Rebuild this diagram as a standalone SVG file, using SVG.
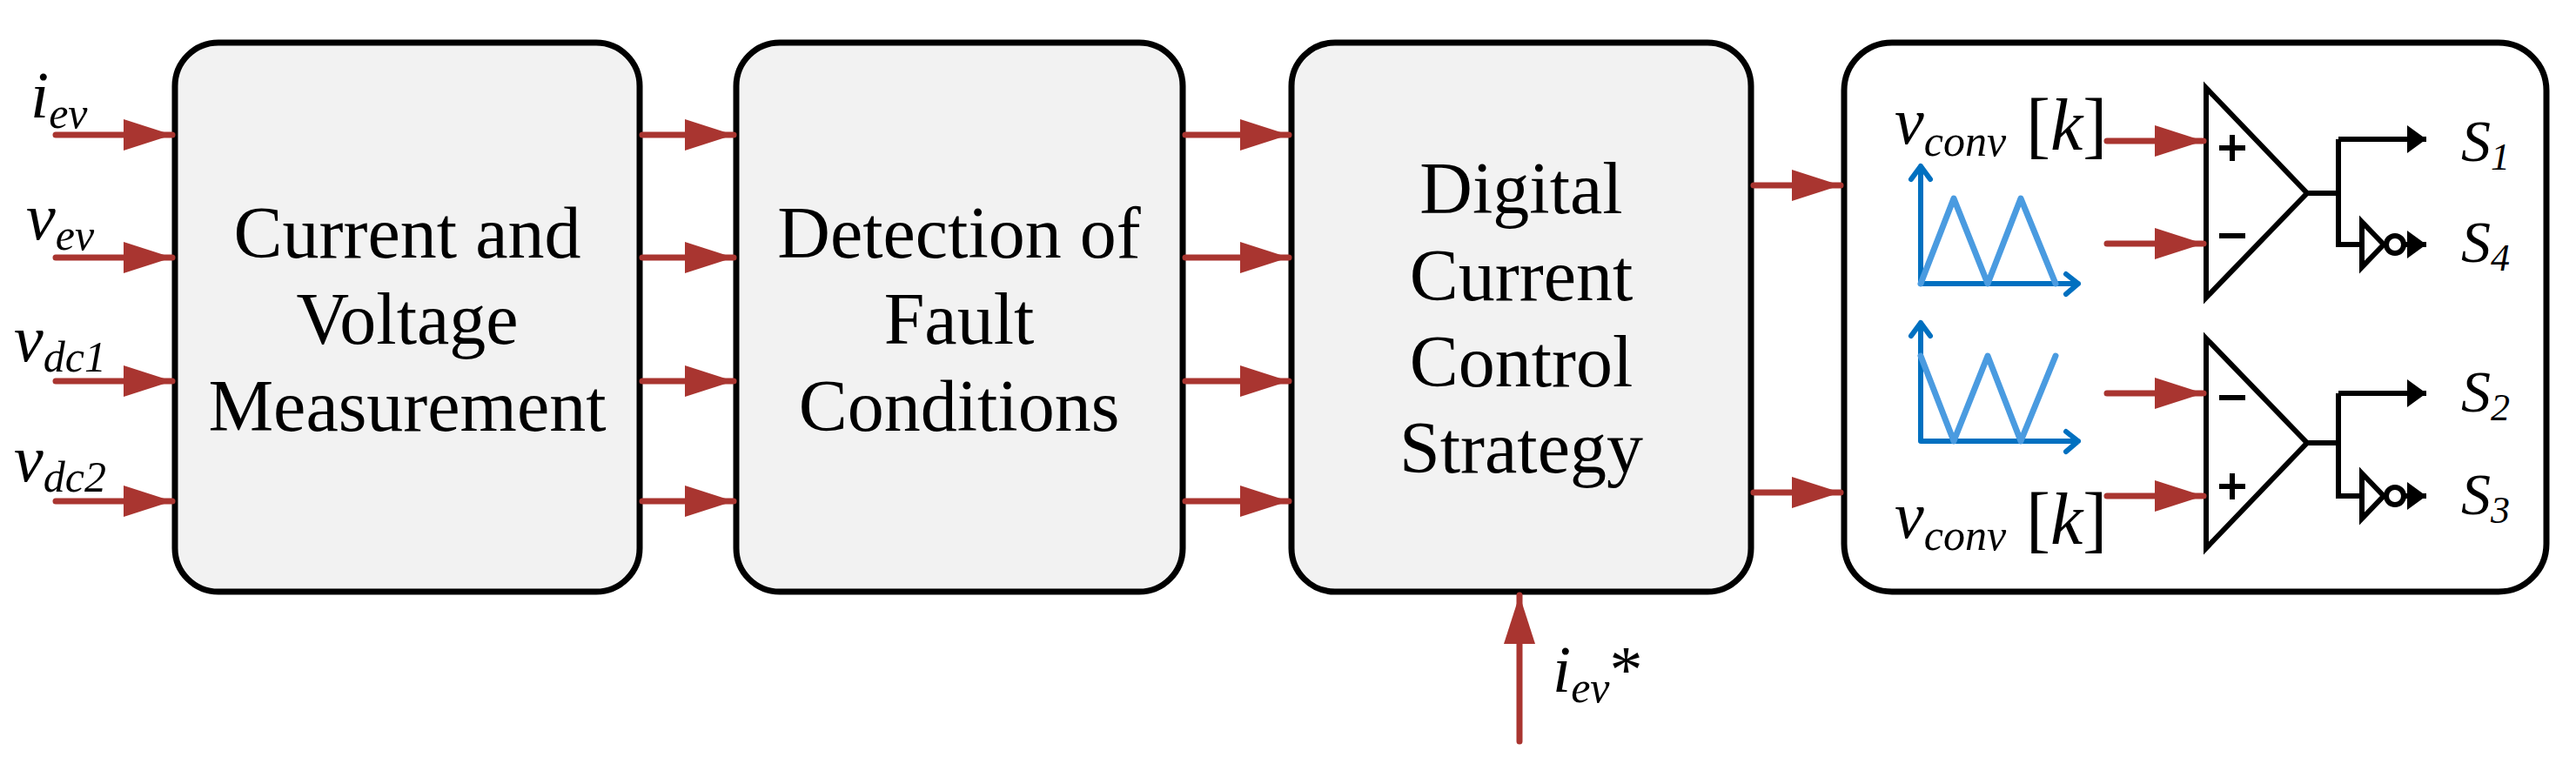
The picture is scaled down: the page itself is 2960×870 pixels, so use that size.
<svg xmlns="http://www.w3.org/2000/svg" width="2960" height="870" viewBox="0 0 2960 870">
<defs>
<marker id="ar" markerUnits="userSpaceOnUse" markerWidth="60" markerHeight="40" refX="56" refY="18" orient="auto"><path d="M0,0 L56,18 L0,36 Z" fill="#A93530"/></marker>
<marker id="ab" markerUnits="userSpaceOnUse" markerWidth="40" markerHeight="40" refX="22" refY="16" orient="auto"><path d="M0,0 L22,16 L0,32 Z" fill="#000"/></marker>
</defs>
<style>
.box{fill:#F2F2F2;stroke:#000;stroke-width:7}
.t{font-family:'Liberation Serif','Times New Roman','DejaVu Serif',serif;font-size:84px;text-anchor:middle;fill:#000}
.m{font-family:'Liberation Serif','Times New Roman','DejaVu Serif',serif;font-style:italic;fill:#000}
.n{font-style:normal}
.r{stroke:#A93530;stroke-width:7;stroke-linecap:round;fill:none;marker-end:url(#ar)}
.k{stroke:#000;stroke-width:6;fill:none}
.ax{stroke:#0070C0;stroke-width:6;fill:none;stroke-linecap:round;stroke-linejoin:round}
.wv{stroke:#4A9BE0;stroke-width:7;fill:none;stroke-linecap:round;stroke-linejoin:round}
</style>
<g id="box1"><rect class="box" x="201" y="49" width="534" height="631" rx="50"/>
<text class="t" x="468" y="296">Current and</text><text class="t" x="468" y="395">Voltage</text><text class="t" x="468" y="495">Measurement</text></g>
<g id="box2"><rect class="box" x="846" y="49" width="513" height="631" rx="50"/>
<text class="t" x="1102" y="296">Detection of</text><text class="t" x="1102" y="395">Fault</text><text class="t" x="1102" y="495">Conditions</text></g>
<g id="box3"><rect class="box" x="1484" y="49" width="528" height="631" rx="50"/>
<text class="t" x="1748" y="245">Digital</text><text class="t" x="1748" y="345">Current</text><text class="t" x="1748" y="444">Control</text><text class="t" x="1748" y="543">Strategy</text></g>
<g id="box4"><rect x="2119" y="49" width="807" height="631" rx="55" fill="#fff" stroke="#000" stroke-width="7"/>
<text class="m" x="2177" y="165" font-size="76">v<tspan font-size="50" dy="14">conv</tspan></text>
<text class="m n" x="2328" y="172" font-size="84">[<tspan font-style="italic">k</tspan>]</text>
<text class="m" x="2177" y="618" font-size="76">v<tspan font-size="50" dy="14">conv</tspan></text>
<text class="m n" x="2328" y="625" font-size="84">[<tspan font-style="italic">k</tspan>]</text>
<path class="ax" d="M2207,191 V326 H2388 M2196,206 L2207,191 L2218,206 M2374,315 L2388,326 L2374,338"/>
<path class="wv" d="M2207,326 L2245,228 L2284,326 L2322,228 L2362,326"/>
<path class="ax" d="M2207,371 V507 H2388 M2196,386 L2207,371 L2218,386 M2374,496 L2388,507 L2374,519"/>
<path class="wv" d="M2207,409 L2245,507 L2284,409 L2322,507 L2362,409"/>
<path class="k" d="M2535,101 L2651,222 L2535,342 Z"/>
<path class="k" d="M2550,170 h30 M2565,155 v30 M2550,271 h30"/>
<path class="k" d="M2535,389 L2651,509 L2535,630 Z"/>
<path class="k" d="M2550,457 h30 M2550,559 h30 M2565,544 v30"/>
<path class="k" d="M2651,222 H2687 M2687,160 V281 H2714"/>
<path class="k" d="M2687,160 H2788" marker-end="url(#ab)"/>
<path class="k" d="M2714,255 L2739,281 L2714,307 Z"/>
<circle cx="2752" cy="281" r="10" fill="#fff" stroke="#000" stroke-width="6"/>
<path class="k" d="M2762,281 H2788" marker-end="url(#ab)"/>
<path class="k" d="M2651,509 H2687 M2687,452 V570 H2714"/>
<path class="k" d="M2687,452 H2788" marker-end="url(#ab)"/>
<path class="k" d="M2714,544 L2739,570 L2714,596 Z"/>
<circle cx="2752" cy="570" r="10" fill="#fff" stroke="#000" stroke-width="6"/>
<path class="k" d="M2762,570 H2788" marker-end="url(#ab)"/>
<text class="m" x="2828" y="185" font-size="68">S<tspan font-size="44" dy="10">1</tspan></text>
<text class="m" x="2828" y="301" font-size="68">S<tspan font-size="44" dy="10">4</tspan></text>
<text class="m" x="2828" y="473" font-size="68">S<tspan font-size="44" dy="10">2</tspan></text>
<text class="m" x="2828" y="591" font-size="68">S<tspan font-size="44" dy="10">3</tspan></text>
</g>
<g id="labels">
<text class="m" x="35" y="135" font-size="76">i<tspan font-size="50" dy="12">ev</tspan></text>
<text class="m" x="30" y="275" font-size="76">v<tspan font-size="50" dy="12">ev</tspan></text>
<text class="m" x="16" y="415" font-size="76">v<tspan font-size="50" dy="12">dc1</tspan></text>
<text class="m" x="16" y="553" font-size="76">v<tspan font-size="50" dy="12">dc2</tspan></text>
<text class="m" x="1784" y="795" font-size="76">i<tspan font-size="50" dy="12">ev</tspan><tspan class="n" dy="-12">*</tspan></text>
</g>
<g id="connectors">
<path class="r" d="M64,155 H198"/><path class="r" d="M64,296 H198"/><path class="r" d="M64,438 H198"/><path class="r" d="M64,576 H198"/>
<path class="r" d="M738,155 H843"/><path class="r" d="M738,296 H843"/><path class="r" d="M738,438 H843"/><path class="r" d="M738,576 H843"/>
<path class="r" d="M1362,155 H1481"/><path class="r" d="M1362,296 H1481"/><path class="r" d="M1362,438 H1481"/><path class="r" d="M1362,576 H1481"/>
<path class="r" d="M2015,213 H2115"/><path class="r" d="M2015,566 H2115"/>
<path class="r" d="M1746,852 V684"/>
<path class="r" d="M2421,162 H2532"/><path class="r" d="M2421,280 H2532"/><path class="r" d="M2421,452 H2532"/><path class="r" d="M2421,570 H2532"/>
</g>
</svg>
